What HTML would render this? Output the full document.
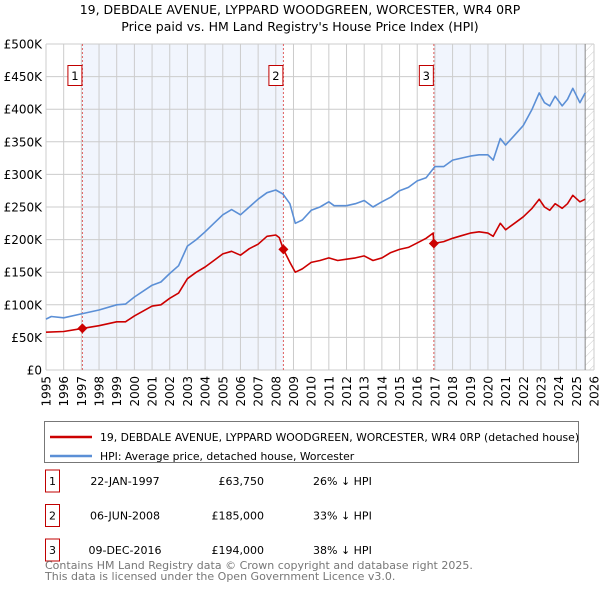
<!DOCTYPE html>
<html><head><meta charset="utf-8"><style>
body{margin:0;background:#fff;}
svg text{font-family:"DejaVu Sans","Liberation Sans",sans-serif;}
</style></head><body>
<svg id="chart" width="600" height="590" xmlns="http://www.w3.org/2000/svg">
<text x="300" y="14" text-anchor="middle" font-size="12.5" fill="#000">19, DEBDALE AVENUE, LYPPARD WOODGREEN, WORCESTER, WR4 0RP</text>
<text x="300" y="31" text-anchor="middle" font-size="12.5" fill="#000">Price paid vs. HM Land Registry's House Price Index (HPI)</text>
<g id="plot"></g>
<g>
<rect x="44.5" y="421.5" width="534" height="41" fill="#fff" stroke="#777"/>
<line x1="50" y1="437" x2="92" y2="437" stroke="#cc0000" stroke-width="2.5"/>
<text x="100" y="441" font-size="10.8">19, DEBDALE AVENUE, LYPPARD WOODGREEN, WORCESTER, WR4 0RP (detached house)</text>
<line x1="50" y1="456" x2="92" y2="456" stroke="#5b8fd6" stroke-width="2.5"/>
<text x="100" y="460" font-size="10.8">HPI: Average price, detached house, Worcester</text>
</g>
<g id="table" font-size="11"></g>
<text x="45" y="569" font-size="11" fill="#777">Contains HM Land Registry data © Crown copyright and database right 2025.</text>
<text x="45" y="580" font-size="11" fill="#777">This data is licensed under the Open Government Licence v3.0.</text>
</svg>
<script>
const hpiYears=[1995,1995.3,1996,1997,1998,1999,1999.5,2000,2001,2001.5,2002,2002.5,2003,2003.5,2004,2004.5,2005,2005.5,2006,2006.5,2007,2007.5,2008,2008.4,2008.8,2009.1,2009.5,2010,2010.5,2011,2011.3,2012,2012.5,2013,2013.5,2014,2014.5,2015,2015.5,2016,2016.5,2017,2017.5,2018,2018.5,2019,2019.5,2020,2020.3,2020.7,2021,2021.5,2022,2022.5,2022.9,2023.2,2023.5,2023.8,2024.2,2024.5,2024.8,2025.2,2025.5];
const hpiValues=[78,82,80,86,92,100,101,112,130,135,148,160,190,200,212,225,238,246,238,250,262,272,276,270,255,225,230,245,250,258,252,252,255,260,250,258,265,275,280,290,295,312,312,322,325,328,330,330,322,355,345,360,375,400,425,410,405,420,405,415,432,410,425];
const redYears=[1995,1996,1997.06,1998,1999,1999.5,2000,2001,2001.5,2002,2002.5,2003,2003.5,2004,2004.5,2005,2005.5,2006,2006.5,2007,2007.5,2008,2008.2,2008.43,2008.8,2009.1,2009.5,2010,2010.5,2011,2011.5,2012,2012.5,2013,2013.5,2014,2014.5,2015,2015.5,2016,2016.5,2016.9,2016.94,2017.5,2018,2018.5,2019,2019.5,2020,2020.3,2020.7,2021,2021.5,2022,2022.5,2022.9,2023.2,2023.5,2023.8,2024.2,2024.5,2024.8,2025.2,2025.5];
const redValues=[58,59,63.75,68,74,74,83,98,100,110,118,140,150,158,168,178,182,176,186,193,205,207,203,185,165,150,155,165,168,172,168,170,172,175,168,172,180,185,188,195,202,210,194,197,202,206,210,212,210,205,225,215,225,235,248,262,250,245,255,248,255,268,258,262];
const saleYears=[1997.06,2008.43,2016.94];
const saleValues=[63.75,185,194];
const saleLabels=["1","2","3"];
const saleDates=["22-JAN-1997","06-JUN-2008","09-DEC-2016"];
const salePrices=["£63,750","£185,000","£194,000"];
const saleDiffs=["26% ↓ HPI","33% ↓ HPI","38% ↓ HPI"];
const yTicks=[0,50,100,150,200,250,300,350,400,450,500];
const yTickLabels=["£0","£50K","£100K","£150K","£200K","£250K","£300K","£350K","£400K","£450K","£500K"];
const xTicks=[];for(let y=1995;y<=2026;y++)xTicks.push(y);
const dataEnd=2025.5;

const X0=46,X1=594,Y0=370,Y1=44;
const xs=y=>X0+(y-1995)/31*(X1-X0);
const ys=v=>Y0-v/500*(Y0-Y1);
const NS="http://www.w3.org/2000/svg";
const plot=document.getElementById('plot');
function mk(tag,attrs,parent){const e=document.createElementNS(NS,tag);for(const k in attrs)e.setAttribute(k,attrs[k]);(parent||plot).appendChild(e);return e;}

const defs=mk('defs',{});
const pat=mk('pattern',{id:'hatch',width:'6',height:'6',patternUnits:'userSpaceOnUse',patternTransform:'rotate(45)'},defs);
mk('line',{x1:0,y1:0,x2:0,y2:6,stroke:'#ccc','stroke-width':1},pat);

let s=mk('rect',{x:xs(saleYears[0]),y:Y1,width:xs(saleYears[1])-xs(saleYears[0]),height:Y0-Y1,fill:'#eef3fc',opacity:'0.8'});


s=mk('rect',{x:xs(saleYears[2]),y:Y1,width:xs(dataEnd)-xs(saleYears[2]),height:Y0-Y1,fill:'#eef3fc',opacity:'0.8'});


s=mk('rect',{x:xs(dataEnd),y:Y1,width:X1-xs(dataEnd),height:Y0-Y1,fill:'url(#hatch)'});



xTicks.forEach(t=>{mk('line',{x1:xs(t),x2:xs(t),y1:Y1,y2:Y0,stroke:'#ccc','stroke-width':1});});
yTicks.forEach((t,i)=>{mk('line',{x1:X0,x2:X1,y1:ys(t),y2:ys(t),stroke:'#ccc','stroke-width':1});
 const tx=mk('text',{x:X0-4,y:ys(t)+4.5,'text-anchor':'end','font-size':'12',fill:'#000'});tx.textContent=yTickLabels[i];
 
 });
xTicks.forEach(t=>{const tx=mk('text',{x:0,y:0,'text-anchor':'end','font-size':'12',transform:`translate(${xs(t)+4.5},376) rotate(-90)`});tx.textContent=t;
 
 });
mk('line',{x1:xs(dataEnd),x2:xs(dataEnd),y1:Y1,y2:Y0,stroke:'#888','stroke-width':1});

saleYears.forEach((y,i)=>{mk('line',{x1:xs(y),x2:xs(y),y1:Y1,y2:Y0,stroke:'#e06060','stroke-width':1,'stroke-dasharray':'2,2'});
 const g=mk('g',{});
 
 
 mk('rect',{x:xs(y)-14.5,y:65.5,width:14,height:20,fill:'#fff',stroke:'#c00000'},g);
 const t=mk('text',{x:xs(y)-7.5,y:80,'text-anchor':'middle','font-size':'11.5'},g);t.textContent=saleLabels[i];});

function line(xa,va,color,name){const d=xa.map((x,i)=>(i?'L':'M')+xs(x).toFixed(1)+','+ys(va[i]).toFixed(1)).join('');
 const p=mk('path',{d,fill:'none',stroke:color,'stroke-width':1.6,'stroke-linejoin':'round'});
 
 }
line(hpiYears,hpiValues,'#5b8fd6','hpi-line');
line(redYears,redValues,'#cc0000','price-paid-line');
saleYears.forEach((y,i)=>{const c=mk('path',{d:`M${xs(y)},${ys(saleValues[i])-5}l5,5l-5,5l-5,-5z`,fill:'#cc0000'});
 
 });

const tb=document.getElementById('table');
saleLabels.forEach((l,i)=>{const cy=481+i*34.5;
 const g=mk('g',{},tb);
 
 
 mk('rect',{x:45.5,y:cy-11,width:14,height:22,fill:'#fff',stroke:'#c00000'},g);
 let t=mk('text',{x:52.5,y:cy+4,'text-anchor':'middle'},g);t.textContent=l;
 t=mk('text',{x:125,y:cy+4,'text-anchor':'middle'},g);t.textContent=saleDates[i];
 t=mk('text',{x:264,y:cy+4,'text-anchor':'end'},g);t.textContent=salePrices[i];
 t=mk('text',{x:313,y:cy+4},g);t.textContent=saleDiffs[i];});
</script>
</body></html>
